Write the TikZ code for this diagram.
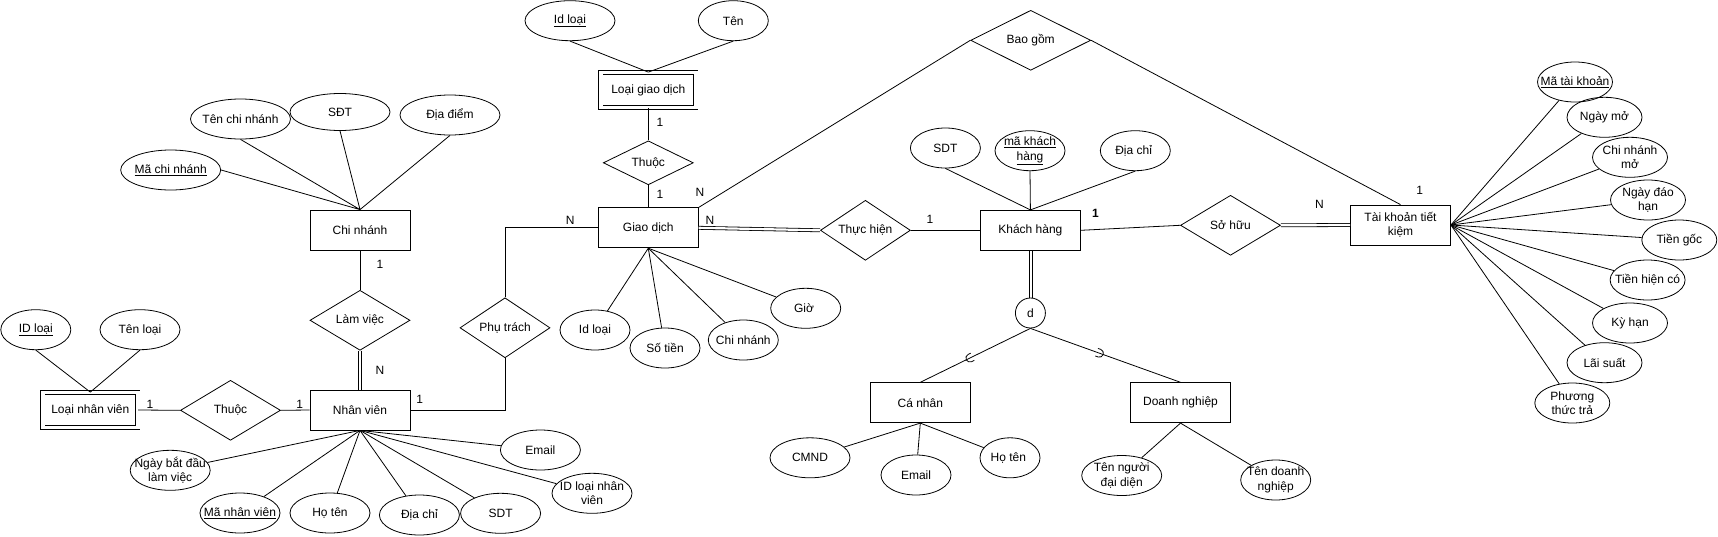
\documentclass[tikz,border=0pt]{standalone}
\usepackage{fontspec}
\setmainfont{Liberation Sans}
\usetikzlibrary{shapes.geometric}
\tikzset{
  subsetmark/.pic={\draw(3pt,4pt)--(0pt,4pt)arc[start angle=90,end angle=270,radius=4pt]--(3pt,-4pt);}
}

\begin{document}
\begin{tikzpicture}[x=1pt,y=-1pt,line width=0.8pt,
    every node/.style={font=\fontsize{12}{14.5}\selectfont},
    entity/.style={draw,minimum width=100pt,minimum height=40pt,align=center,inner sep=1pt},
    weak/.style={entity,double,double distance=3.4pt,minimum width=95pt,minimum height=35pt},
    attr/.style={draw,ellipse,align=center,inner xsep=-12pt,inner ysep=-6pt,minimum width=#1,minimum height=40pt},
    attr/.default=80pt,
    rel/.style={draw,diamond,aspect=1.5,inner sep=0pt,minimum width=#1,minimum height=60pt},
    rel/.default=100pt,
    dbl/.style={double,double distance=2.2pt},
    card/.style={inner sep=0pt}]
  \useasboundingbox(0,0)rectangle(1718,536);

  \node[entity](cn)at(360,230){Chi nhánh};
  \node[rel](lv)at(360,320.3){Làm việc};
  \node[entity](nv)at(360,410){Nhân viên};
  \node[rel](th1)at(230.5,410.3){Thuộc};
  \node[weak](lnv)at(90.3,410){Loại nhân viên};
  \node[rel=90pt](pt)at(505,327.8){Phụ trách};
  \node[entity](gd)at(648.3,227.8){Giao dịch};
  \node[rel=90pt,minimum height=44pt](th2)at(648.3,162.8){Thuộc};
  \node[weak](lgd)at(648.3,90){Loại giao dịch};
  \node[rel=90pt](th3)at(865.4,230.3){Thực hiện};
  \node[entity](kh)at(1030.4,230.3){Khách hàng};
  \node[rel](sh)at(1230.5,225.3){Sở hữu};
  \node[entity](tk)at(1400.5,225){Tài khoản tiết\\kiệm};
  \node[rel=120pt](bg)at(1030.7,40.3){Bao gồm};
  \node[draw,circle,minimum size=30pt,inner sep=0pt](dj)at(1030.4,313){d};
  \node[entity](ca)at(920.3,402.7){Cá nhân};
  \node[entity](dn)at(1180.5,402.7){Doanh nghiệp};
  \draw([xshift=-1.5pt]kh.south)--([xshift=-1.5pt]dj.north) ([xshift=1.5pt]kh.south)--([xshift=1.5pt]dj.north);

  \node[attr=100pt](cnMa)at(170.7,170){\underline{Mã chi nhánh}};
  \node[attr=100pt](cnTen)at(240.5,119){Tên chi nhánh};
  \node[attr=100pt,minimum height=37pt](cnSdt)at(340,112){SĐT};
  \node[attr=100pt](cnDd)at(450,115){Địa điểm};
  \draw(cnMa.east)--(cn.north) (cnTen.south)--(cn.north) (cnSdt.south)--(cn.north) (cnDd.south)--(cn.north);

  \node[attr=70pt](lnvId)at(35.8,329.7){\underline{ID loại}};
  \node[attr](lnvTen)at(140,329.7){Tên loại};
  \draw(lnvId.south)--(lnv.north) (lnvTen.south)--(lnv.north);

  \node[attr=90pt](lgdId)at(570,20.7){\underline{Id loại}};
  \node[attr=70pt](lgdTen)at(733.3,20.7){Tên};
  \draw(lgdId.south)--(lgd.north) (lgdTen.south)--(lgd.north);

  \foreach \n/\x/\y/\t in {
    Ngay/170.2/470.3/Ngày bắt đầu\\làm việc,
    Ma/240/513/\underline{Mã nhân viên},
    Ho/330/513/Họ tên,
    Dc/419.4/515/Địa chỉ,
    Sdt/500.6/513.3/SDT,
    Email/540.4/450/Email,
    Idl/592/493.3/ID loại nhân\\viên
  }{
    \node[attr](nv\n)at(\x,\y){\t};
    \draw(nv.south)--(nv\n);
  }
  \foreach \n/\x/\y/\t in {
    Id/595/330/Id loại,
    Tien/665/348/Số tiền,
    Cn/743.3/340/Chi nhánh,
    Gio/805.7/308.3/Giờ
  }{
    \node[attr=70pt](gd\n)at(\x,\y){\t};
    \draw(gd.south)--(gd\n);
  }
  \foreach \n/\x/\y/\t in {
    Sdt/945.4/148/SDT,
    Ma/1030/150.7/\underline{mã khách}\\\underline{hàng},
    Dc/1135.3/150.7/Địa chỉ
  }{
    \node[attr=70pt](kh\n)at(\x,\y){\t};
    \draw(kh\n.south)--(kh.north);
  }
  \foreach \n/\x/\y/\w/\t in {
    Cmnd/810/457.8/80pt/CMND,
    Email/916/475/70pt/Email,
    Ho/1010/457.8/60pt/Họ tên
  }{
    \node[attr=\w](ca\n)at(\x,\y){\t};
    \draw(ca.south)--(ca\n);
  }
  \foreach \n/\x/\y/\w/\t in {
    Nguoi/1121.7/475.5/80pt/Tên người\\đại diện,
    Ten/1275.7/480/70pt/Tên doanh\\nghiệp
  }{
    \node[attr=\w](dn\n)at(\x,\y){\t};
    \draw(dn.south)--(dn\n);
  }
  \foreach \n/\x/\y/\t in {
    Ma/1575/82/\underline{Mã tài khoản},
    Ngay/1604.5/117.3/Ngày mở,
    Cn/1630/157.3/Chi nhánh\\mở,
    Dh/1648/200/Ngày đáo\\hạn,
    Goc/1679.3/240/Tiền gốc,
    Hc/1647.6/280/Tiền hiện có,
    Ky/1630/323/Kỳ hạn,
    Lai/1604.5/362.7/Lãi suất,
    Pt/1572.3/403/Phương\\thức trả
  }{
    \node[attr=75pt](tk\n)at(\x,\y){\t};
    \draw(tk.east)--(tk\n);
  }

  \draw(cn.south)--(lv.north);
  \draw[dbl](lv.south)--(nv.north);
  \draw(lnv.east)--(th1.west) (th1.east)--(nv.west);
  \draw(nv.east)-|(pt.south) (pt.north)|-(gd.west);
  \draw(lgd.south)--(th2.north) (th2.south)--(gd.north);
  \draw[dbl](gd.east)--(th3.west);
  \draw(th3.east)--(kh.west);
  \draw(kh.east)--(sh.west);
  \draw[dbl](sh.east)--(tk.west);
  \draw(bg.west)--(gd.north east) (bg.east)--(tk.north);
  \draw(ca.north)--pic[pos=.45,sloped,allow upside down]{subsetmark}(dj.south);
  \draw(dn.north)--pic[pos=.54,sloped,allow upside down]{subsetmark}(dj.south);

  \node[card](lbCn)at(380,264){1};
  \node[card](lbNv)at(380,370){N};
  \node[card](lbLnv)at(150,404){1};
  \node[card](lbTh)at(299.6,404){1};
  \node[card](lbPt)at(419.8,399.3){1};
  \node[card](lbPg)at(570.2,220){N};
  \node[card](lbLgd)at(660,122.7){1};
  \node[card](lbGd)at(660,194.3){1};
  \node[card](lbBg)at(700,192.7){N};
  \node[card](lbTh3)at(710,220){N};
  \node[card](lbKh)at(930,219.3){1};
  \node[card,font=\fontsize{12}{14.5}\selectfont\bfseries](lbSh)at(1095.5,213.3){1};
  \node[card](lbTk)at(1319.5,204.3){N};
  \node[card](lbBt)at(1419.8,190){1};
\end{tikzpicture}
\end{document}
